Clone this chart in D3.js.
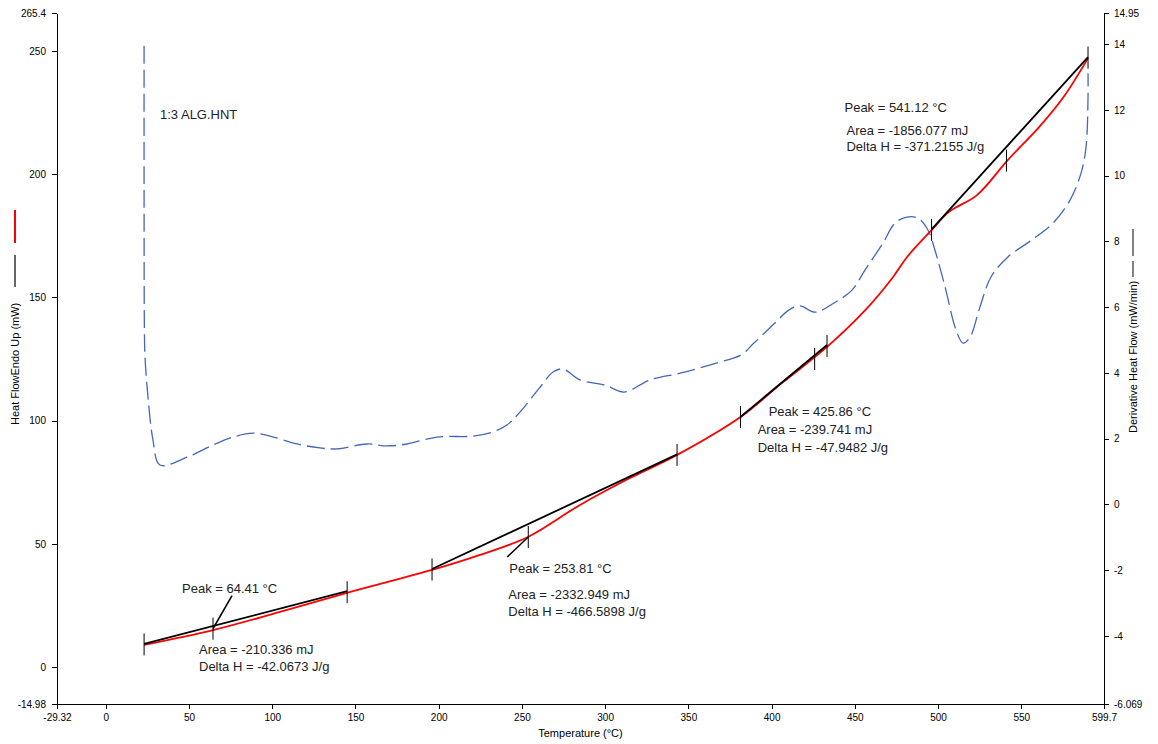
<!DOCTYPE html>
<html>
<head>
<meta charset="utf-8">
<script src="https://cdn.jsdelivr.net/npm/d3@7"></script>
<style>
    body { margin: 0; background: #fff; }
    svg { display: block; font-family: "Liberation Sans", Arial, sans-serif; }
    .axis path, .axis line { stroke: #000; shape-rendering: crispEdges; }
    .axis text { font-size: 10px; fill: #000; }
    .axis-title { font-size: 11px; fill: #000; }
    .note { font-size: 13px; fill: #222; }
</style>
</head>
<body>
<svg id="chart" width="1158" height="744"></svg>
<script>
// Heat flow, endo up (mW) - left axis
const heatTemp = [23.0, 64.4, 104.7, 144.9, 196.0, 224.8, 253.6, 284.9, 314.9, 343.2, 381.3, 406.3,
    433.3, 456.4, 473.0, 481.4, 496.1, 506.6, 523.4, 542.0, 560.7, 575.4, 590.1]
const heatFlow = [9.0, 15.0, 22.4, 30.1, 39.4, 45.5, 52.8, 65.8, 76.7, 86.1, 101.5, 115.3,
    129.9, 144.9, 158.3, 166.4, 177.3, 184.7, 191.5, 205.8, 219.1, 231.3, 247.1]

// Derivative heat flow (mW/min) - right axis
const derivTemp = [23.0, 23.0, 23.2, 23.55, 25.35, 28.35, 32.56, 48.8, 64.4, 76.4, 88.4, 98.6, 114.9,
    128.7, 138.9, 156.9, 168.9, 180.9, 199.0, 220.6, 232.6, 241.0, 248.8, 260.9, 268.7, 274.7, 284.9,
    299.9, 311.3, 327.0, 345.6, 366.7, 381.6, 389.4, 402.0, 410.5, 417.1, 426.1, 437.5, 448.3, 456.1,
    466.9, 474.1, 481.3, 487.9, 493.9, 498.1, 504.2, 510.8, 515.0, 519.2, 525.2, 531.8, 542.0, 556.4,
    569.1, 579.3, 585.9, 588.9, 590.1, 590.1]
const derivFlow = [13.95, 9.26, 5.31, 4.49, 3.27, 1.96, 1.20, 1.44, 1.81, 2.05, 2.17, 2.08, 1.84,
    1.72, 1.69, 1.84, 1.78, 1.84, 2.05, 2.08, 2.21, 2.42, 2.81, 3.57, 4.03, 4.12, 3.79,
    3.63, 3.42, 3.79, 4.00, 4.30, 4.55, 4.91, 5.52, 5.92, 6.04, 5.85, 6.13, 6.52, 7.13,
    7.95, 8.56, 8.74, 8.71, 8.35, 7.74, 6.62, 5.31, 4.91, 5.09, 6.01, 6.92, 7.53, 8.05,
    8.56, 9.26, 10.08, 10.87, 12.39, 13.12]

// Peak baselines (start / end)
const baseStartTemp = [23, 196, 381.3, 496.1]
const baseStartFlow = [9.4, 39.8, 101.5, 177.6]
const baseEndTemp = [145, 343.2, 433.3, 590.1]
const baseEndFlow = [30.8, 86.3, 130.7, 247.5]

// Limit / peak markers on the curve
const markerTemp = [23, 64.41, 145, 196, 253.81, 343.2, 381.3, 425.86, 433.3, 496.1, 541.12, 590.1]
const markerFlow = [9.2, 15.6, 30.4, 39.6, 52.8, 86.1, 101.5, 125, 130.3, 177.4, 205.5, 247.3]

// Peak results
const peakTemp = [64.41, 253.81, 425.86, 541.12]
const peakFlow = [15.6, 52.8, 125, 205.5]
const peakLabels = ['Peak = 64.41 °C', 'Peak = 253.81 °C', 'Peak = 425.86 °C', 'Peak = 541.12 °C']
const areaLabels = ['Area = -210.336 mJ', 'Area = -2332.949 mJ', 'Area = -239.741 mJ', 'Area = -1856.077 mJ']
const deltaLabels = ['Delta H = -42.0673 J/g', 'Delta H = -466.5898 J/g', 'Delta H = -47.9482 J/g', 'Delta H = -371.2155 J/g']

// Tick labels
const xTicks = [-29.32, 0, 50, 100, 150, 200, 250, 300, 350, 400, 450, 500, 550, 599.7]
const leftTicks = [-14.98, 0, 50, 100, 150, 200, 250, 265.4]
const rightTicks = [-6.069, -4, -2, 0, 2, 4, 6, 8, 10, 12, 14, 14.95]

const sampleName = '1:3 ALG.HNT'

// Layout
const plotLeft = 57, plotRight = 1104, plotTop = 13, plotBottom = 704
// text offsets from each peak point: [peak dx, peak dy, area dx, area dy, line gap]
const noteOffsets = [[-31, -36, -14, 25, 17], [-19, 36, -20, 62, 17], [-46, 57, -57, 75, 18], [-162, -49, -160, -26, 16]]
// pointer lines from peak point (dx, dy), null = none
const pointerOffsets = [[19, -33], [-21, 20], null, null]

const svg = d3.select('#chart')

// Create Scales
const x = d3.scaleLinear().domain([-29.32, 599.7]).range([plotLeft, plotRight])
const yLeft = d3.scaleLinear().domain([-14.98, 265.4]).range([plotBottom, plotTop])
const yRight = d3.scaleLinear().domain([-6.069, 14.95]).range([plotBottom, plotTop])

// Axes
svg.append('g')
    .attr('class', 'axis')
    .attr('transform', `translate(0,${plotBottom})`)
    .call(d3.axisBottom(x).tickValues(xTicks).tickFormat(d => d).tickSize(5).tickSizeOuter(0).tickPadding(5))

svg.append('g')
    .attr('class', 'axis')
    .attr('transform', `translate(${plotLeft},0)`)
    .call(d3.axisLeft(yLeft).tickValues(leftTicks).tickFormat(d => d).tickSize(5).tickSizeOuter(0).tickPadding(6))

svg.append('g')
    .attr('class', 'axis')
    .attr('transform', `translate(${plotRight},0)`)
    .call(d3.axisRight(yRight).tickValues(rightTicks).tickFormat(d => d).tickSize(5).tickSizeOuter(0).tickPadding(5))

// Axis titles
svg.append('text')
    .attr('class', 'axis-title')
    .attr('x', (plotLeft + plotRight) / 2)
    .attr('y', 737)
    .attr('text-anchor', 'middle')
    .text('Temperature (°C)')

svg.append('text')
    .attr('class', 'axis-title')
    .attr('transform', 'translate(19,425) rotate(-90)')
    .text('Heat FlowEndo Up (mW)')
svg.append('line').attr('x1', 15).attr('x2', 15).attr('y1', 255).attr('y2', 287)
    .style('stroke', '#000').style('stroke-width', 1.2)
svg.append('line').attr('x1', 15).attr('x2', 15).attr('y1', 210).attr('y2', 243)
    .style('stroke', '#ff0000').style('stroke-width', 2)

svg.append('text')
    .attr('class', 'axis-title')
    .attr('transform', 'translate(1137,433) rotate(-90)')
    .text('Derivative Heat Flow (mW/min)')
svg.append('line').attr('x1', 1133).attr('x2', 1133).attr('y1', 229).attr('y2', 277)
    .style('stroke', '#333').style('stroke-width', 1.2).style('stroke-dasharray', '27,5')
    .style('stroke-dashoffset', 0)

// Derivative curve
const derivLine = d3.line()
    .x(i => x(derivTemp[i]))
    .y(i => yRight(derivFlow[i]))
    .curve(d3.curveCatmullRom.alpha(0.5))

svg.append('path')
    .attr('d', derivLine(d3.range(derivTemp.length)))
    .style('fill', 'none')
    .style('stroke', '#4466bb')
    .style('stroke-width', 1.3)
    .style('stroke-dasharray', '18,6')

// Heat flow curve
const heatLine = d3.line()
    .x(i => x(heatTemp[i]))
    .y(i => yLeft(heatFlow[i]))
    .curve(d3.curveCatmullRom.alpha(0.5))

svg.append('path')
    .attr('d', heatLine(d3.range(heatTemp.length)))
    .style('fill', 'none')
    .style('stroke', '#ff0000')
    .style('stroke-width', 1.8)

// Baselines
svg.selectAll('.baseline')
    .data(d3.range(baseStartTemp.length))
    .enter()
    .append('line')
    .attr('class', 'baseline')
    .attr('x1', i => x(baseStartTemp[i]))
    .attr('y1', i => yLeft(baseStartFlow[i]))
    .attr('x2', i => x(baseEndTemp[i]))
    .attr('y2', i => yLeft(baseEndFlow[i]))
    .style('stroke', '#000')
    .style('stroke-width', 1.8)

// Markers
svg.selectAll('.marker')
    .data(d3.range(markerTemp.length))
    .enter()
    .append('line')
    .attr('class', 'marker')
    .attr('x1', i => x(markerTemp[i]))
    .attr('x2', i => x(markerTemp[i]))
    .attr('y1', i => yLeft(markerFlow[i]) - 11)
    .attr('y2', i => yLeft(markerFlow[i]) + 11)
    .style('stroke', '#000')
    .style('stroke-width', 1)

// Peak notes
peakTemp.forEach((t, i) => {
    const px = x(t), py = yLeft(peakFlow[i])
    const o = noteOffsets[i]
    svg.append('text').attr('class', 'note').attr('x', px + o[0]).attr('y', py + o[1]).text(peakLabels[i])
    svg.append('text').attr('class', 'note').attr('x', px + o[2]).attr('y', py + o[3]).text(areaLabels[i])
    svg.append('text').attr('class', 'note').attr('x', px + o[2]).attr('y', py + o[3] + o[4]).text(deltaLabels[i])
    const p = pointerOffsets[i]
    if (p) {
        svg.append('line')
            .attr('x1', px).attr('y1', py)
            .attr('x2', px + p[0]).attr('y2', py + p[1])
            .style('stroke', '#000')
            .style('stroke-width', 1.6)
    }
})

svg.append('text')
    .attr('class', 'note')
    .attr('x', 160)
    .attr('y', 119)
    .text(sampleName)
</script>
</body>
</html>
